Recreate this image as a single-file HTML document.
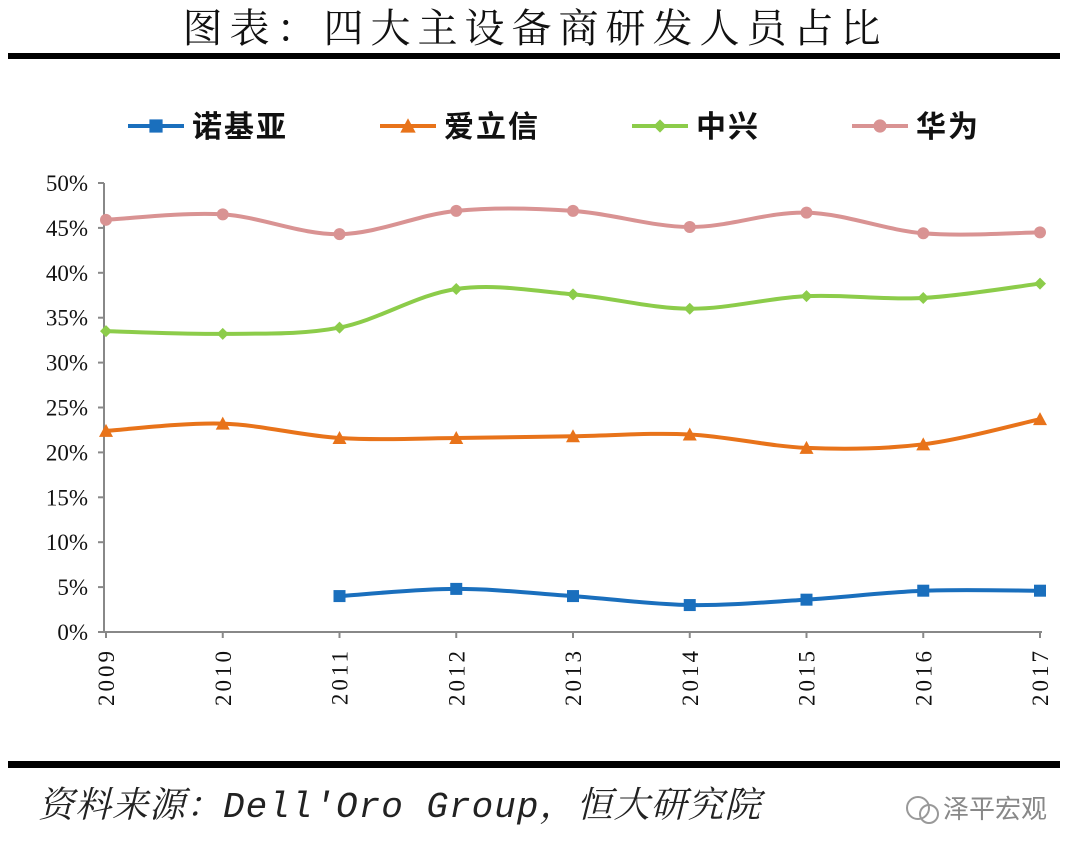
<!DOCTYPE html>
<html><head><meta charset="utf-8"><style>
body{margin:0;background:#fff;width:1080px;height:855px;overflow:hidden;font-family:"Liberation Serif","Noto Serif CJK SC",serif}
</style></head><body>
<svg width="1080" height="855" xmlns="http://www.w3.org/2000/svg" id="chart">
<text x="535" y="42" text-anchor="middle" font-size="40" font-family="'Liberation Serif','Noto Serif CJK SC',serif" fill="#111" letter-spacing="7">图表：四大主设备商研发人员占比</text>
<rect x="8" y="53" width="1052" height="6" fill="#000"/>
<rect x="8" y="761" width="1052" height="7" fill="#000"/>
<text x="38" y="817" font-size="36" font-style="italic" font-family="'Liberation Mono','Noto Serif CJK SC',serif" fill="#222" letter-spacing="1">资料来源：Dell'Oro Group，恒大研究院</text>
<g><circle cx="918" cy="808" r="11" fill="none" stroke="#999" stroke-width="2"/><circle cx="929" cy="814" r="9" fill="none" stroke="#999" stroke-width="2"/><text x="943" y="818" font-size="26" fill="#888" font-family="'Noto Sans CJK SC',sans-serif">泽平宏观</text></g>
<g id="legend"></g>
<g id="axes"></g><g id="series"></g>
</svg>
<script>
const years=['2009','2010','2011','2012','2013','2014','2015','2016','2017'];
const nokia=[null,null,4.0,4.8,4.0,3.0,3.6,4.6,4.6];
const ericsson=[22.4,23.2,21.6,21.6,21.8,22.0,20.5,20.9,23.7];
const zte=[33.5,33.2,33.9,38.2,37.6,36.0,37.4,37.2,38.8];
const huawei=[45.9,46.5,44.3,46.9,46.9,45.1,46.7,44.4,44.5];
const yTicks=[0,5,10,15,20,25,30,35,40,45,50];
const names=['诺基亚','爱立信','中兴','华为'];
const NS='http://www.w3.org/2000/svg';
const svg=document.getElementById('chart');
const X=i=>106+i*116.75;
const Y=v=>632-v*8.98;
function mk(t,a,p){const e=document.createElementNS(NS,t);for(const k in a)e.setAttribute(k,a[k]);(p||svg).appendChild(e);return e;}
const ax=document.getElementById('axes');
const yl=mk('line',{x1:104,y1:Y(50),x2:104,y2:632,stroke:'#888','stroke-width':2},ax);


const xl=mk('line',{x1:100,y1:632,x2:1042,y2:632,stroke:'#888','stroke-width':2},ax);


yTicks.forEach(v=>{
 mk('line',{x1:98,y1:Y(v),x2:104,y2:Y(v),stroke:'#888','stroke-width':2},ax);
 const t=mk('text',{x:88,y:Y(v)+8,'text-anchor':'end','font-size':23,fill:'#111'},ax);
 t.textContent=v+'%';
 
 
});
years.forEach((y,i)=>{
 mk('line',{x1:X(i),y1:632,x2:X(i),y2:638,stroke:'#888','stroke-width':2},ax);
 const t=mk('text',{x:0,y:0,'font-size':23,fill:'#111','text-anchor':'end','letter-spacing':3,transform:`translate(${X(i)+8},648) rotate(-90)`},ax);
 t.textContent=y;
 
 
});
const ser=[[nokia,'#1a6fbd','square'],[ericsson,'#e8731a','tri'],[zte,'#8ccc4a','diamond'],[huawei,'#d99393','circle']];
function marker(g,kind,x,y,c,s){
 s=s||1;
 if(kind==='square')mk('rect',{x:x-6*s,y:y-6*s,width:12*s,height:12*s,fill:c},g);
 else if(kind==='tri')mk('polygon',{points:`${x},${y-7*s} ${x-7*s},${y+6*s} ${x+7*s},${y+6*s}`,fill:c},g);
 else if(kind==='diamond')mk('polygon',{points:`${x},${y-6*s} ${x+6*s},${y} ${x},${y+6*s} ${x-6*s},${y}`,fill:c},g);
 else mk('circle',{cx:x,cy:y,r:6*s,fill:c},g);
}
const sg=document.getElementById('series');
ser.forEach(([vals,c,kind],k)=>{
 const pts=[];vals.forEach((v,i)=>{if(v!==null)pts.push([X(i),Y(v)]);});
 let d=`M${pts[0][0]},${pts[0][1]}`;
 for(let i=0;i<pts.length-1;i++){
  const p0=pts[Math.max(0,i-1)],p1=pts[i],p2=pts[i+1],p3=pts[Math.min(pts.length-1,i+2)];
  const c1=[p1[0]+(p2[0]-p0[0])/6,p1[1]+(p2[1]-p0[1])/6],c2=[p2[0]-(p3[0]-p1[0])/6,p2[1]-(p3[1]-p1[1])/6];
  d+=` C${c1[0]},${c1[1]} ${c2[0]},${c2[1]} ${p2[0]},${p2[1]}`;
 }
 const g=mk('g',{},sg);
 
 
 mk('path',{d:d,fill:'none',stroke:c,'stroke-width':4},g);
 pts.forEach(p=>marker(g,kind,p[0],p[1],c));
 const lg=document.getElementById('legend');
 const lx=[128,380,632,852][k];
 const e=mk('g',{},lg);
 
 
 mk('line',{x1:lx,y1:126,x2:lx+56,y2:126,stroke:c,'stroke-width':4},e);
 marker(e,kind,lx+28,126,c,1.1);
 const t=mk('text',{x:lx+64,y:137,'font-size':30,'font-weight':'bold',fill:'#111','font-family':"'Noto Sans CJK SC',sans-serif",'letter-spacing':2},e);
 t.textContent=names[k];
});
</script>
</body></html>
